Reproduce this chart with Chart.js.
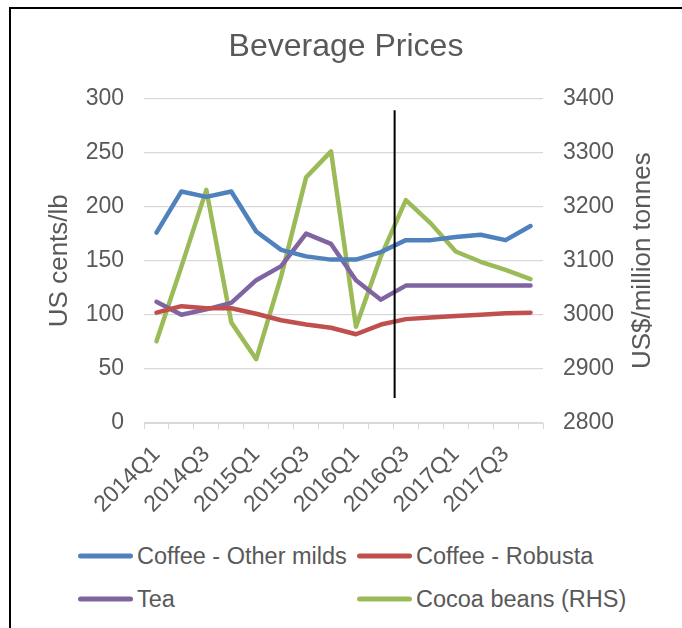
<!DOCTYPE html>
<html>
<head>
<meta charset="utf-8">
<title>Beverage Prices</title>
<script src="https://cdn.jsdelivr.net/npm/chart.js@4"></script>
<style>
    html, body { margin: 0; padding: 0; background: #fff; overflow: hidden; }
    body { width: 682px; height: 628px; position: relative; }
    .frame { position: absolute; left: 9px; top: 7px; width: 800px; height: 800px; border: 2px solid #000; }
    #chart { position: absolute; left: 0; top: 0; }
    .legend-item {
        position: absolute; display: flex; align-items: center; transform: translateY(-50%);
        font: 23.5px "Liberation Sans", Arial, sans-serif; color: #595959; white-space: nowrap;
    }
    .legend-item span.swatch { display: inline-block; width: 55px; height: 5px; border-radius: 3px; margin-right: 4px; }
</style>
</head>
<body>
<div class="frame"></div>
<canvas id="chart" width="682" height="540"></canvas>
<div id="legend"></div>
<script>
(function beverages () {
    'use strict';

    var quarters = [
        '2014Q1', '2014Q2', '2014Q3', '2014Q4',
        '2015Q1', '2015Q2', '2015Q3', '2015Q4',
        '2016Q1', '2016Q2', '2016Q3', '2016Q4',
        '2017Q1', '2017Q2', '2017Q3', '2017Q4'
    ];
    // US cents/lb
    var coffeeMilds = [176, 214, 209, 214, 177, 160, 154, 151, 151, 158, 169, 169, 172, 174, 169, 182];
    var coffeeRobusta = [102, 108, 106, 106, 101, 95, 91, 88, 82, 91, 96, 97.5, 99, 100, 101.5, 102];
    var tea = [112, 100, 105, 111, 132, 145, 175, 165.5, 132, 114, 127, 127, 127, 127, 127, 127];
    // US$/million tonnes, right hand scale
    var cocoa = [2951, 3089, 3231, 2986, 2918, 3071, 3254, 3302, 2978, 3108, 3212, 3169, 3117, 3098, 3083, 3066];

    // forecast divider: category position and the span it covers on the left scale
    var forecastAt = 9.55;
    var forecastSpan = [23, 289];

    var rightTitle = 'US$/million tonnes';
    var textColor = '#595959';
    var gridColor = '#d9d9d9';
    var fontFamily = '"Liberation Sans", Arial, sans-serif';

    function series(label, values, color, axis) {
        return {
            label: label,
            data: values,
            yAxisID: axis,
            borderColor: color,
            backgroundColor: color,
            borderWidth: 4.5,
            borderJoinStyle: 'round',
            borderCapStyle: 'round',
            pointRadius: 0,
            tension: 0,
            fill: false
        };
    }

    var forecastLine = {
        id: 'forecastLine',
        afterDatasetsDraw: function (chart) {
            var ctx = chart.ctx;
            var x = chart.scales.x.getPixelForValue(forecastAt);
            var y = chart.scales.y;
            ctx.save();
            ctx.strokeStyle = '#000';
            ctx.lineWidth = 2;
            ctx.beginPath();
            ctx.moveTo(x, y.getPixelForValue(forecastSpan[1]));
            ctx.lineTo(x, y.getPixelForValue(forecastSpan[0]));
            ctx.stroke();
            ctx.restore();
        }
    };

    // right axis title reads bottom to top, like the left one
    var rightAxisTitle = {
        id: 'rightAxisTitle',
        afterDraw: function (chart) {
            var ctx = chart.ctx;
            var area = chart.chartArea;
            var scale = chart.scales.y1;
            ctx.save();
            ctx.translate(scale.right - 29, (area.top + area.bottom) / 2);
            ctx.rotate(-Math.PI / 2);
            ctx.fillStyle = textColor;
            ctx.font = '26px ' + fontFamily;
            ctx.textAlign = 'center';
            ctx.textBaseline = 'middle';
            ctx.fillText(rightTitle, 0, 0);
            ctx.restore();
        }
    };

    var chart = new Chart(document.getElementById('chart').getContext('2d'), {
        type: 'line',
        data: {
            labels: quarters,
            datasets: [
                series('Coffee - Other milds', coffeeMilds, '#4f81bd', 'y'),
                series('Coffee - Robusta', coffeeRobusta, '#c0504d', 'y'),
                series('Tea', tea, '#8064a2', 'y'),
                series('Cocoa beans (RHS)', cocoa, '#9bbb59', 'y1')
            ]
        },
        options: {
            responsive: false,
            devicePixelRatio: 1,
            animation: false,
            layout: { padding: { top: 12, left: 20, right: 10, bottom: 0 } },
            plugins: {
                legend: { display: false },
                tooltip: { enabled: false },
                title: {
                    display: true,
                    text: 'Beverage Prices',
                    color: textColor,
                    font: { family: fontFamily, size: 32, weight: 'normal' },
                    padding: { top: 16, bottom: 32 }
                }
            },
            scales: {
                x: {
                    offset: true,
                    grid: { drawOnChartArea: false, color: gridColor, tickLength: 6, offset: true },
                    border: { color: gridColor },
                    ticks: {
                        autoSkip: false,
                        minRotation: 45,
                        maxRotation: 45,
                        padding: 12,
                        color: textColor,
                        font: { family: fontFamily, size: 23 },
                        callback: function (value, index) {
                            return index % 2 === 0 ? quarters[index] : '';
                        }
                    },
                    afterFit: function (scale) { scale.height = 117; }
                },
                y: {
                    position: 'left',
                    min: 0,
                    max: 300,
                    grid: { color: gridColor, lineWidth: 1.3, drawTicks: false },
                    border: { display: false },
                    ticks: { stepSize: 50, padding: 20, color: textColor, font: { family: fontFamily, size: 23 } },
                    title: {
                        display: true,
                        text: 'US cents/lb',
                        color: textColor,
                        font: { family: fontFamily, size: 26 },
                        padding: { top: 24, bottom: 0 }
                    },
                    afterFit: function (scale) { scale.width = 124; }
                },
                y1: {
                    position: 'right',
                    min: 2800,
                    max: 3400,
                    grid: { drawOnChartArea: false, drawTicks: false },
                    border: { display: false },
                    ticks: {
                        stepSize: 100,
                        padding: 20,
                        color: textColor,
                        font: { family: fontFamily, size: 23 },
                        callback: function (value) { return String(value); }
                    },
                    afterFit: function (scale) { scale.width = 129; }
                }
            }
        },
        plugins: [forecastLine, rightAxisTitle]
    });

    // two-column legend under the chart
    var legendSpots = [[78, 556], [357, 556], [78, 599], [357, 599]];
    var legend = document.getElementById('legend');
    chart.data.datasets.forEach(function (ds, i) {
        var item = document.createElement('div');
        item.className = 'legend-item';
        item.style.left = legendSpots[i][0] + 'px';
        item.style.top = legendSpots[i][1] + 'px';
        var swatch = document.createElement('span');
        swatch.className = 'swatch';
        swatch.style.background = ds.borderColor;
        item.appendChild(swatch);
        item.appendChild(document.createTextNode(ds.label));
        legend.appendChild(item);
    });
}());
</script>
</body>
</html>
